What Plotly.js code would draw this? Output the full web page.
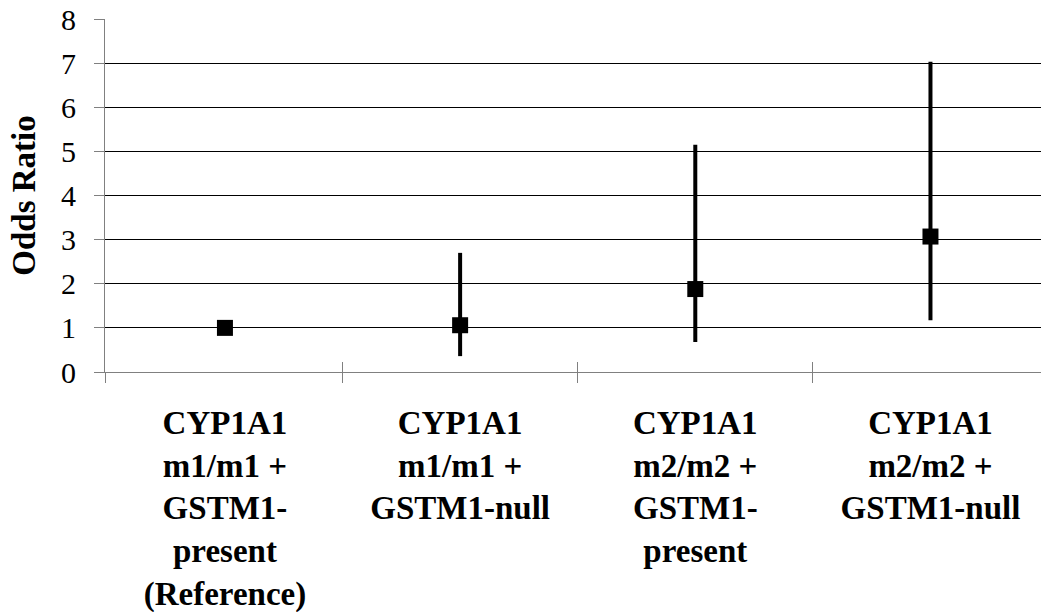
<!DOCTYPE html>
<html>
<head>
<meta charset="utf-8">
<script src="https://cdn.plot.ly/plotly-3.0.1.min.js"></script>
</head>
<body style="margin:0">
<div id="plot" style="width:1041px;height:612px"></div>
<script>
// Genotype combinations
const categories = [
  "CYP1A1<br>m1/m1 +<br>GSTM1-<br>present<br>(Reference)",
  "CYP1A1<br>m1/m1 +<br>GSTM1-null",
  "CYP1A1<br>m2/m2 +<br>GSTM1-<br>present",
  "CYP1A1<br>m2/m2 +<br>GSTM1-null"
];
// Odds ratios with 95% confidence limits
const oddsRatio = [1.0, 1.06, 1.88, 3.07];
const ciLower   = [1.0, 0.36, 0.68, 1.17];
const ciUpper   = [1.0, 2.70, 5.15, 7.03];
const yTicks    = [0, 1, 2, 3, 4, 5, 6, 7, 8];

const xPos = categories.map((_, i) => i);
const xRange = [-0.51, 3.47];
const boundaries = [xRange[0], 0.5, 1.5, 2.5];

const trace = {
  type: "scatter",
  mode: "markers",
  x: xPos,
  y: oddsRatio,
  marker: { symbol: "square", size: 16, color: "#000" },
  error_y: {
    type: "data",
    symmetric: false,
    array: ciUpper.map((u, i) => u - oddsRatio[i]),
    arrayminus: ciLower.map((l, i) => oddsRatio[i] - l),
    color: "#000",
    thickness: 4,
    width: 0
  },
  showlegend: false,
  hoverinfo: "skip"
};

// Invisible trace on the overlay axis, carrying the upward half of the boundary ticks
const overlay = {
  type: "scatter", mode: "none", x: xRange, y: [0, 0],
  xaxis: "x2", yaxis: "y", showlegend: false, hoverinfo: "skip"
};

const fam = "Tinos";

const layout = {
  width: 1041,
  height: 612,
  margin: { l: 105, r: 0, t: 19, b: 240 },
  font: { family: fam, size: 30 },
  xaxis: {
    range: xRange,
    tickmode: "array",
    tickvals: xPos,
    ticktext: categories.map(c => "<b>" + c.split("<br>").join("</b><br><b>") + "</b>"),
    ticks: "",
    showgrid: false,
    zeroline: false,
    showline: true,
    linecolor: "#808080",
    linewidth: 1,
    tickfont: { family: fam, size: 33, color: "#000" },
    ticklabelstandoff: 21,
    minor: {
      tickmode: "array",
      tickvals: boundaries,
      ticks: "outside",
      ticklen: 10,
      tickwidth: 1,
      tickcolor: "#808080",
      showgrid: false
    }
  },
  xaxis2: {
    overlaying: "x",
    range: xRange,
    tickmode: "array",
    tickvals: boundaries,
    ticks: "inside",
    ticklen: 10,
    tickwidth: 1,
    tickcolor: "#808080",
    showticklabels: false,
    showgrid: false,
    zeroline: false,
    showline: false
  },
  yaxis: {
    range: [0, 8],
    tickmode: "array",
    tickvals: yTicks,
    ticks: "outside",
    ticklen: 10,
    tickwidth: 1,
    tickcolor: "#808080",
    showgrid: true,
    gridcolor: "#000",
    gridwidth: 1,
    zeroline: false,
    showline: true,
    linecolor: "#808080",
    linewidth: 1,
    tickfont: { family: fam, size: 30, color: "#000" },
    ticklabelstandoff: 12,
    title: {
      text: "<b>Odds Ratio</b>",
      font: { family: fam, size: 33, color: "#000" },
      standoff: 15
    },
    automargin: false
  }
};

Plotly.newPlot("plot", [trace, overlay], layout, { displayModeBar: false }).then(function (gd) {
  gd.querySelectorAll("svg text").forEach(function (t) {
    t.setAttribute("font-family", "Tinos, 'Liberation Serif', 'DejaVu Serif', serif");
    t.style.setProperty("font-family", "Tinos, 'Liberation Serif', 'DejaVu Serif', serif", "important");
  });
});
</script>
</body>
</html>
